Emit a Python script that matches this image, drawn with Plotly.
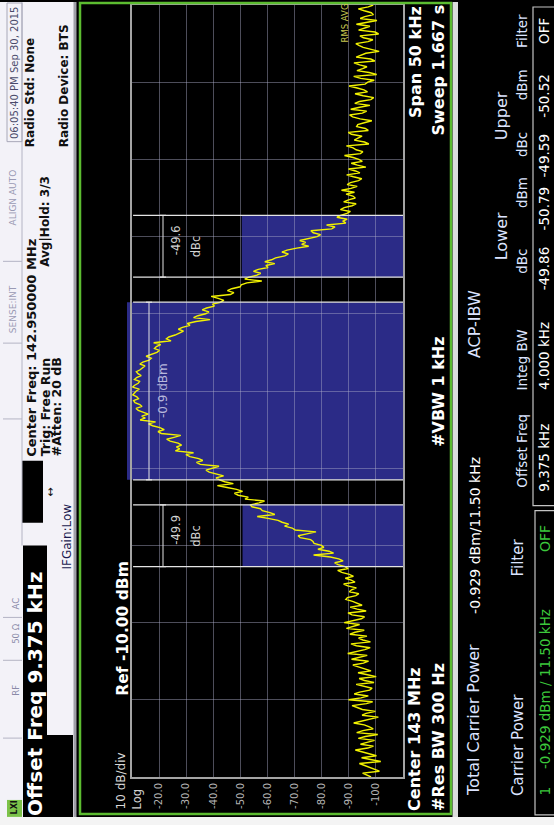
import numpy as np
import plotly.graph_objects as go

# ---------------- data ----------------
center_freq_mhz = 142.95
span_khz = 50.0
ref_level_dbm = -10.0
db_per_div = 10.0

trace_dbm = [
    -98.2, -96.9, -95.1, -101.3, -99.6, -97.8, -96.3, -93.9, -101.8, -98.7,
    -94.7, -100.2, -97.9, -95.4, -92.4, -97.0, -99.1, -94.3, -96.8, -99.5,
    -93.5, -96.1, -100.7, -92.9, -95.2, -99.0, -97.6, -95.7, -91.8, -94.6,
    -98.4, -100.9, -94.9, -96.4, -99.8, -95.0, -93.1, -91.2, -96.5, -98.8,
    -89.9, -94.5, -97.2, -92.0, -94.0, -97.7, -98.6, -95.1, -92.7, -99.3,
    -95.8, -93.8, -100.1, -96.9, -93.4, -98.2, -96.0, -94.1, -91.5, -95.4,
    -97.3, -91.0, -94.2, -96.8, -89.6, -93.5, -95.9, -97.9, -92.8, -90.8,
    -98.0, -95.2, -93.6, -96.7, -90.4, -92.3, -95.7, -89.1, -92.1, -94.0,
    -88.3, -91.9, -94.6, -95.8, -91.2, -89.7, -96.4, -93.1, -90.5, -94.9,
    -93.3, -91.4, -88.9, -89.5, -92.6, -93.7, -90.2, -91.0,
    -92.8, -89.6, -88.1, -92.3, -90.9, -88.7, -91.7, -90.2, -87.4, -85.9,
    -89.8, -88.6, -86.1, -84.8, -87.9, -86.3, -83.2, -77.0, -84.4, -82.7,
    -78.6, -80.8, -79.9, -77.2, -76.8, -75.9, -72.1, -71.3, -74.5, -77.9,
    -70.2, -69.1, -66.3, -67.8, -65.4, -63.9, -60.2, -56.2, -62.7, -60.9,
    -58.1, -57.4, -54.3, -53.6, -56.9, -58.9, -51.7, -52.9, -49.2, -47.8,
    -50.8, -48.6, -45.1, -41.5, -47.4, -44.2, -42.3, -41.0, -43.8, -40.7,
    -38.5, -37.3, -39.9, -42.1, -35.2, -33.8, -36.1, -34.6, -31.4, -29.9,
    -32.7, -26.0, -27.6, -26.4, -28.3, -27.0, -24.1, -22.8, -25.5, -28.0,
    -20.8, -19.6, -21.9, -20.3, -17.6, -16.1, -18.7, -13.0, -14.9, -13.6,
    -16.0, -14.4, -12.3, -11.5, -13.7, -12.9, -11.1, -10.6, -12.4, -11.8,
    -10.3, -10.9,
    -11.6, -12.7,
    -10.2, -11.0, -12.3, -12.8, -10.9, -11.7, -13.4, -12.2, -11.6, -13.0,
    -14.1, -14.8, -12.9, -14.0, -16.3, -17.1, -15.2, -16.9, -19.2, -20.1,
    -18.3, -19.0, -20.6, -18.0, -24.4, -22.7, -23.6, -25.9, -27.8, -29.0,
    -27.1, -28.6, -31.4, -30.4, -33.6, -38.8, -32.7, -34.3, -37.2, -38.4,
    -35.9, -37.5, -40.4, -39.7, -42.6, -43.9, -41.8, -39.2, -46.3, -47.6,
    -45.2, -46.8, -49.9, -50.3, -52.4, -57.9, -51.6, -53.2, -56.1, -57.5,
    -54.8, -56.6, -60.2, -59.4, -62.7, -59.0, -61.5, -63.0, -66.4, -67.7,
    -65.3, -67.2, -70.8, -75.2, -72.6, -74.1, -71.9, -74.8, -78.3, -79.6,
    -76.9, -76.0, -83.7, -84.9, -81.8, -88.9, -87.9, -89.4, -85.6, -87.0,
    -89.3, -90.6, -86.9, -88.3, -91.2, -92.7, -88.1, -89.9, -92.4, -91.5,
    -89.0, -92.1,
    -87.3, -90.8, -93.1, -89.4, -90.6, -93.6, -94.8, -91.7, -89.2, -94.1,
    -92.5, -89.9, -96.3, -93.2, -90.9, -95.0, -93.7, -91.6, -88.4, -94.3,
    -95.2, -92.7, -91.6, -89.1, -97.4, -95.8, -92.0, -93.4, -94.9, -91.0,
    -89.8, -97.2, -96.1, -92.9, -93.3, -95.7, -98.5, -94.2, -91.4, -90.3,
    -95.0, -96.6, -90.7, -94.0, -97.8, -92.2, -93.9, -98.1, -99.2, -95.3,
    -92.3, -96.9, -95.6, -93.1, -90.1, -96.0, -97.0, -99.4, -94.4, -91.8,
    -100.3, -97.5, -93.0, -95.1, -96.7, -94.0, -91.9, -99.6, -98.1, -92.7,
    -94.8, -96.3, -101.2, -98.0, -95.3, -93.9, -92.6, -97.1, -98.9, -95.4,
    -94.1, -101.0, -99.7, -93.6, -96.2, -97.8, -92.8, -96.6, -100.4, -94.2,
    -95.9, -99.1, -98.3, -95.7, -93.5, -97.2, -99.0,
]
# sweep points evenly spread across the span (analyzer x-axis definition)
freq_offset_khz = np.linspace(-span_khz / 2, span_khz / 2, len(trace_dbm))

carrier_bw_khz = 11.50
carrier_power_dbm = -0.929
offset_freq_khz = [9.375]
integ_bw_khz = [4.000]
lower_dbc = [-49.86]
lower_dbm = [-50.79]
upper_dbc = [-49.59]
upper_dbm = [-50.52]

amp_tick_vals = [-20, -30, -40, -50, -60, -70, -80, -90, -100]
amp_tick_text = ["-20.0", "-30.0", "-40.0", "-50.0", "-60.0", "-70.0", "-80.0", "-90.0", "-100"]
freq_grid_khz = [-20, -15, -10, -5, 0, 5, 10, 15, 20]

# ---------------- layout helpers ----------------
W, H = 554, 825
PL, PR, PT, PB = 132, 403, 3, 777
FONT = "DejaVu Sans"


def px(x):
    return (x - PL) / (PR - PL)


def py(y):
    return (PB - y) / (PB - PT)


shapes = []
annotations = []


def rect(x0, y0, x1, y1, fill=None, line=None, lw=0, layer="below"):
    shapes.append(dict(type="rect", xref="paper", yref="paper",
                       x0=px(x0), x1=px(x1), y0=py(y1), y1=py(y0),
                       fillcolor=fill if fill else "rgba(0,0,0,0)",
                       line=dict(color=line if line else "rgba(0,0,0,0)", width=lw),
                       layer=layer))


def hline(x0, x1, y, color, lw=1):
    shapes.append(dict(type="line", xref="paper", yref="paper",
                       x0=px(x0), x1=px(x1), y0=py(y), y1=py(y),
                       line=dict(color=color, width=lw), layer="above"))


def vline(x, y0, y1, color, lw=1):
    shapes.append(dict(type="line", xref="paper", yref="paper",
                       x0=px(x), x1=px(x), y0=py(y0), y1=py(y1),
                       line=dict(color=color, width=lw), layer="above"))


def txt(text, xc, y, anchor, size, color, bold=False, family=FONT):
    annotations.append(dict(text=f"<b>{text}</b>" if bold else text,
                            x=px(xc), y=py(y), xref="paper", yref="paper",
                            xanchor="center", yanchor=anchor, textangle=-90,
                            showarrow=False, borderpad=0,
                            font=dict(size=size, color=color, family=family)))


def fy(f):
    # frequency offset (kHz) -> image pixel row
    return PB - (f + span_khz / 2) / span_khz * (PB - PT)


# ---------------- figure ----------------
fig = go.Figure()
fig.add_trace(go.Scatter(x=trace_dbm, y=freq_offset_khz, mode="lines",
                         line=dict(color="#f2f200", width=1.4),
                         hoverinfo="skip", showlegend=False))

# left header panel
rect(0, 0, 75, 818, fill="#f3f2f8")
rect(73.5, 0, 76.5, 818, fill="#a0a0a8")
vline(22, 0, 545, "#b4b4c4", 1)
rect(7, 1, 22, 140, line="#a8a8b8", lw=1, layer="above")
for yy in [260, 342, 418, 617, 660, 738]:
    hline(3, 22, yy, "#b4b4c4", 1)
rect(23, 545, 47, 818, fill="black")
rect(47, 735, 73, 818, fill="black")
rect(22, 460, 43, 522, fill="black")
rect(7, 800, 22, 817, fill="#7cc24a")

txt("06:05:40 PM Sep 30, 2015", 14.5, 3, "top", 10, "#4a4a6a")
txt("ALIGN AUTO", 13, 225, "bottom", 9, "#9a9ab4")
txt("SENSE:INT", 13, 333, "bottom", 9, "#9a9ab4")
txt("AC", 16, 610, "bottom", 8.5, "#8a8aa8")
txt("50 Ω", 16, 645, "bottom", 8.5, "#8a8aa8")
txt("RF", 16, 697, "bottom", 8.5, "#8a8aa8")
txt("LXI", 14.5, 816, "bottom", 8, "#111111", bold=True)

txt(f"Center Freq: {center_freq_mhz:.6f} MHz", 32, 457, "bottom", 13, "#101010", bold=True)
txt("Trig: Free Run", 45, 457, "bottom", 12.5, "#101010", bold=True)
txt("#Atten: 20 dB", 56, 457, "bottom", 12.5, "#101010", bold=True)
txt("Avg|Hold: 3/3", 45, 267, "bottom", 12, "#101010", bold=True)
txt("Radio Std: None", 30, 147, "bottom", 12, "#101010", bold=True)
txt("Radio Device: BTS", 64, 147, "bottom", 12, "#101010", bold=True)
txt("IFGain:Low", 67, 570, "bottom", 12, "#1a1a50")
txt("↔", 51, 492, "middle", 11, "#101010")
txt(f"Offset Freq {offset_freq_khz[0]:.3f} kHz", 35, 817, "bottom", 20, "white", bold=True)

# chart frame, gap, right panel
rect(80, 1, 451, 814, line="#5cbc30", lw=2.5, layer="above")
rect(452.5, 0, 458, 818, fill="#dcdcdc")
rect(0, 817, 554, 825, fill="#f4f4f4")
rect(533, 5, 560, 505, line="#c4c4c4", lw=1.2, layer="above")
rect(535, 510, 560, 815, line="#c4c4c4", lw=1.2, layer="above")

# ACP boxes (data driven)
fill_blue = "#2b2b87"
shapes.append(dict(type="rect", xref="x domain", yref="y", x0=0, x1=1,
                   y0=-carrier_bw_khz / 2, y1=carrier_bw_khz / 2,
                   fillcolor=fill_blue, line=dict(width=0), layer="below"))
# small overhang of the carrier box past the reference line
rect(127, fy(carrier_bw_khz / 2), 132, fy(-carrier_bw_khz / 2), fill=fill_blue)
shapes.append(dict(type="rect", xref="x", yref="y", x0=lower_dbm[0], x1=-110,
                   y0=-offset_freq_khz[0] - integ_bw_khz[0] / 2,
                   y1=-offset_freq_khz[0] + integ_bw_khz[0] / 2,
                   fillcolor=fill_blue, line=dict(width=0), layer="below"))
shapes.append(dict(type="rect", xref="x", yref="y", x0=upper_dbm[0], x1=-110,
                   y0=offset_freq_khz[0] - integ_bw_khz[0] / 2,
                   y1=offset_freq_khz[0] + integ_bw_khz[0] / 2,
                   fillcolor=fill_blue, line=dict(width=0), layer="below"))

edges = [(-carrier_bw_khz / 2, carrier_bw_khz / 2, 149),
         (-offset_freq_khz[0] - integ_bw_khz[0] / 2, -offset_freq_khz[0] + integ_bw_khz[0] / 2, 163),
         (offset_freq_khz[0] - integ_bw_khz[0] / 2, offset_freq_khz[0] + integ_bw_khz[0] / 2, 163)]
for f0, f1, ax in edges:
    for f in (f0, f1):
        shapes.append(dict(type="line", xref="x domain", yref="y", x0=0.004, x1=1, y0=f, y1=f,
                           line=dict(color="#e4e4e4", width=1.2), layer="above"))
        shapes.append(dict(type="line", xref="x domain", yref="y", x0=px(ax - 3), x1=px(ax + 3), y0=f, y1=f,
                           line=dict(color="#e4e4e4", width=1.2), layer="above"))
    shapes.append(dict(type="line", xref="x domain", yref="y", x0=px(ax), x1=px(ax), y0=f0, y1=f1,
                       line=dict(color="#e4e4e4", width=1), layer="above"))

txt(f"{carrier_power_dbm:.1f} dBm", 163, fy(0), "middle", 12, "#b8b8dc")
txt(f"{upper_dbc[0]:.1f}", 176, fy(offset_freq_khz[0]) - 6, "middle", 11.5, "#d4d4d4")
txt("dBc", 196, fy(offset_freq_khz[0]), "middle", 11.5, "#d4d4d4")
txt(f"{lower_dbc[0]:.1f}", 176, fy(-offset_freq_khz[0]) - 6, "middle", 11.5, "#d4d4d4")
txt("dBc", 196, fy(-offset_freq_khz[0]), "middle", 11.5, "#d4d4d4")

# chart texts
txt(f"Ref {ref_level_dbm:.2f} dBm", 123, 697, "bottom", 15.5, "white", bold=True)
txt("10 dB/div", 121, 811, "bottom", 12, "#d8d8d8")
txt("Log", 137, 811, "bottom", 11.5, "#d0d0d0")
txt("RMS AVG", 345, 1, "top", 8.5, "#c8c850")
txt(f"Center {center_freq_mhz:.0f} MHz", 415, 812, "bottom", 16, "white", bold=True)
txt("#Res BW 300 Hz", 439, 812, "bottom", 16, "white", bold=True)
txt("#VBW 1 kHz", 439, 447, "bottom", 16, "white", bold=True)
txt(f"Span {span_khz:.0f} kHz", 415, 3, "top", 16, "white", bold=True)
txt("Sweep 1.667 s", 439, 2, "top", 16, "white", bold=True)

# right ACP panel
hdr = "#dce4ff"
txt("Total Carrier Power", 474, 797, "bottom", 16, hdr)
txt(f"{carrier_power_dbm:.3f} dBm/{carrier_bw_khz:.2f} kHz", 475, 615, "bottom", 14, "white")
txt("ACP-IBW", 474, 358, "bottom", 16, hdr)
txt("Lower", 501, 260, "bottom", 16, hdr)
txt("Upper", 501, 140, "bottom", 16, hdr)
txt("Carrier Power", 518, 797, "bottom", 15, hdr)
txt("Filter", 518, 577, "bottom", 15, hdr)
txt("Offset Freq", 522, 488, "bottom", 13.5, hdr)
txt("Integ BW", 522, 391, "bottom", 13.5, hdr)
txt("dBc", 522, 274, "bottom", 13.5, hdr)
txt("dBm", 522, 208, "bottom", 13.5, hdr)
txt("dBc", 522, 157, "bottom", 13.5, hdr)
txt("dBm", 522, 100, "bottom", 13.5, hdr)
txt("Filter", 522, 47, "bottom", 13.5, hdr)
txt(f"{offset_freq_khz[0]:.3f} kHz", 544, 492, "bottom", 13.5, "white")
txt(f"{integ_bw_khz[0]:.3f} kHz", 544, 390, "bottom", 13.5, "white")
txt(f"{lower_dbc[0]:.2f}", 544, 290, "bottom", 13.5, "white")
txt(f"{lower_dbm[0]:.2f}", 544, 230, "bottom", 13.5, "white")
txt(f"{upper_dbc[0]:.2f}", 544, 177, "bottom", 13.5, "white")
txt(f"{upper_dbm[0]:.2f}", 544, 117, "bottom", 13.5, "white")
txt("OFF", 544, 43, "bottom", 13.5, "white")
green = "#3cc83c"
txt("1", 545, 797, "bottom", 14, green)
txt(f"{carrier_power_dbm:.3f} dBm / {carrier_bw_khz:.2f} kHz", 545, 770, "bottom", 13.5, green)
txt("OFF", 545, 553, "bottom", 14, green)

grid_col = "rgba(170,170,200,0.45)"
fig.update_layout(
    width=W, height=H,
    margin=dict(l=PL, r=W - PR, t=PT, b=H - PB, pad=0),
    paper_bgcolor="black", plot_bgcolor="black",
    showlegend=False,
    font=dict(family=FONT),
    shapes=shapes, annotations=annotations,
    xaxis=dict(range=[ref_level_dbm, ref_level_dbm - 10 * db_per_div],
               tickvals=amp_tick_vals, ticktext=amp_tick_text, tickangle=-90,
               tickfont=dict(size=10, color="#b4b4b4", family=FONT),
               showgrid=True, gridcolor=grid_col, gridwidth=1, zeroline=False,
               showline=True, linecolor="#a4a4a4", linewidth=2, mirror=True,
               ticks="", fixedrange=True),
    yaxis=dict(range=[-span_khz / 2, span_khz / 2], tickvals=freq_grid_khz,
               showticklabels=False, showgrid=True, gridcolor=grid_col, gridwidth=1,
               zeroline=False, showline=True, linecolor="#a4a4a4", linewidth=2,
               mirror=True, ticks="", fixedrange=True),
)

fig.write_html("out.html", config={"displayModeBar": False},
               post_script="document.body.style.margin='0';document.body.style.overflow='hidden';")
